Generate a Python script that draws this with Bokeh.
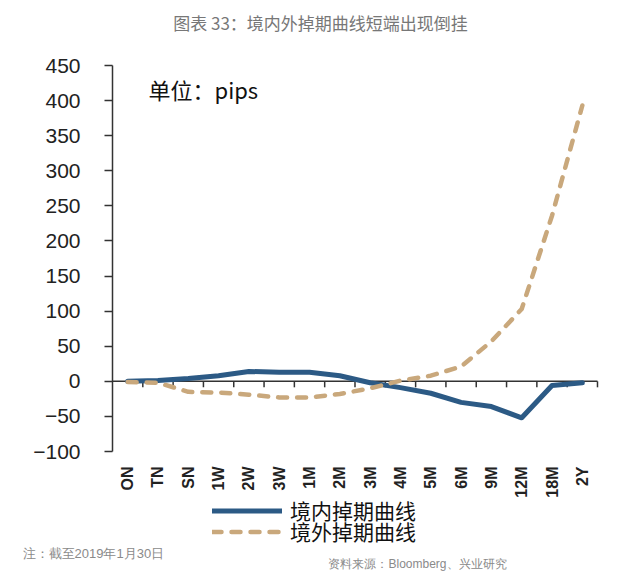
import math
from bokeh.plotting import figure
from bokeh.models import (Range1d, FixedTicker, Label, Legend, LegendItem, ColumnDataSource, Title)
from bokeh.core.properties import value
from bokeh.embed import file_html
from bokeh.resources import INLINE

categories = ["ON", "TN", "SN", "1W", "2W", "3W", "1M", "2M", "3M", "4M", "5M", "6M", "9M", "12M", "18M", "2Y"]
onshore = [0, 1, 4, 8, 14, 13, 13, 8, -2, -9, -17, -30, -36, -52, -6, -2]
offshore = [-1, -2, -15, -16, -19, -23, -23, -18, -10, 1, 8, 21, 57, 103, 236, 393]
y_ticks = [-100, -50, 0, 50, 100, 150, 200, 250, 300, 350, 400, 450]

title_text = "图表 33：境内外掉期曲线短端出现倒挂"
unit_text = "单位：pips"
note_text = "注：截至2019年1月30日"
source_text = "资料来源：Bloomberg、兴业研究"
names = ["境内掉期曲线", "境外掉期曲线"]

# layout (pixels)
W, H = 624, 577
LEFT, BOTTOM_PANEL = 112, 30
AX_TOP, AX_BOTTOM = 65, 451          # pixel rows of the top / bottom y tick
frame_h = H - BOTTOM_PANEL
ppu = (AX_BOTTOM - AX_TOP) / (y_ticks[-1] - y_ticks[0])
y_hi = y_ticks[-1] + AX_TOP / ppu
y_lo = y_ticks[0] - (frame_h - AX_BOTTOM) / ppu

xpos = [i + 0.5 for i in range(len(categories))]
src = ColumnDataSource(dict(x=xpos, on=onshore, off=offshore))

p = figure(width=W, height=H, output_backend="svg", toolbar_location=None,
           x_range=Range1d(0, len(categories) + 27 / 30.3), y_range=Range1d(y_lo, y_hi),
           x_axis_location=None,
           min_border_left=LEFT, min_border_right=0, min_border_top=0, min_border_bottom=BOTTOM_PANEL)
p.outline_line_color = None
p.xgrid.visible = False
p.ygrid.visible = False
p.background_fill_color = "white"

# y axis
p.yaxis.ticker = FixedTicker(ticks=y_ticks)
p.yaxis.bounds = (y_ticks[0], y_ticks[-1])
p.yaxis.axis_line_color = "#333333"
p.yaxis.axis_line_width = 1.5
p.yaxis.major_tick_line_color = "#333333"
p.yaxis.major_tick_line_width = 1.5
p.yaxis.major_tick_out = 8
p.yaxis.major_tick_in = 0
p.yaxis.minor_tick_line_color = None
p.yaxis.major_label_standoff = 24
p.yaxis.major_label_text_font = "Liberation Sans"
p.yaxis.major_label_text_font_size = "21px"
p.yaxis.major_label_text_color = "#222222"

# zero line with category boundary ticks
n = len(categories)
bounds = list(range(1, n + 1))
p.segment(x0=[0], y0=[0], x1=[n], y1=[0], line_color="#333333", line_width=1.5)
p.segment(x0=bounds, y0=[0] * n, x1=bounds, y1=[-6 / ppu] * n,
          line_color="#333333", line_width=1.5)

# category labels below the plot area
p.text(x=xpos, y=[y_ticks[0]] * n, text=categories, angle=math.pi / 2,
       y_offset=15, text_align="right", text_baseline="middle",
       text_font=value("Liberation Sans"), text_font_size="16px",
       text_font_style="bold", text_color="#222222")

r1 = p.line("x", "on", source=src, line_color="#2c5a85", line_width=5, line_join="round", line_cap="round")
r2 = p.line("x", "off", source=src, line_color="#c9a87c", line_width=4.5, line_dash="9 10",
            line_join="round", line_cap="round")

ROW_H = 28
for name, rend, row_center in zip(names, [r1, r2], [511, 532]):
    lg = Legend(items=[LegendItem(label=name, renderers=[rend])],
                location=(100, frame_h - (row_center - ROW_H / 2) - ROW_H),
                glyph_width=70, glyph_height=21, label_height=21,
                label_standoff=8, spacing=0, padding=0, margin=0,
                border_line_alpha=0, background_fill_alpha=0,
                label_text_font="Noto Sans CJK SC", label_text_font_size="21px",
                label_text_color="#111111")
    p.add_layout(lg, "center")

p.add_layout(Label(x=320 - LEFT, y=frame_h - 22, x_units="screen", y_units="screen", text=title_text,
                   text_align="center", text_baseline="middle", text_font="Noto Sans CJK SC",
                   text_font_size="17px", text_color="#777777"))
p.add_layout(Label(x=148 - LEFT, y=frame_h - 88, x_units="screen", y_units="screen", text=unit_text,
                   text_align="left", text_baseline="middle", text_font="Noto Sans CJK SC",
                   text_font_size="22px", text_color="#111111"))

p.add_layout(Title(text=note_text, align="left", offset=22 - LEFT, standoff=-7,
                   text_font="Liberation Sans", text_font_size="13px", text_line_height=1.0,
                   text_font_style="normal", text_color="#8a8a8a"), "below")
p.add_layout(Title(text=source_text, align="right", offset=W - 506, standoff=-6,
                   text_font="Liberation Sans", text_font_size="12px", text_line_height=1.0,
                   text_font_style="normal", text_color="#8a8a8a"), "below")

open("out.html", "w").write(file_html(p, INLINE))
